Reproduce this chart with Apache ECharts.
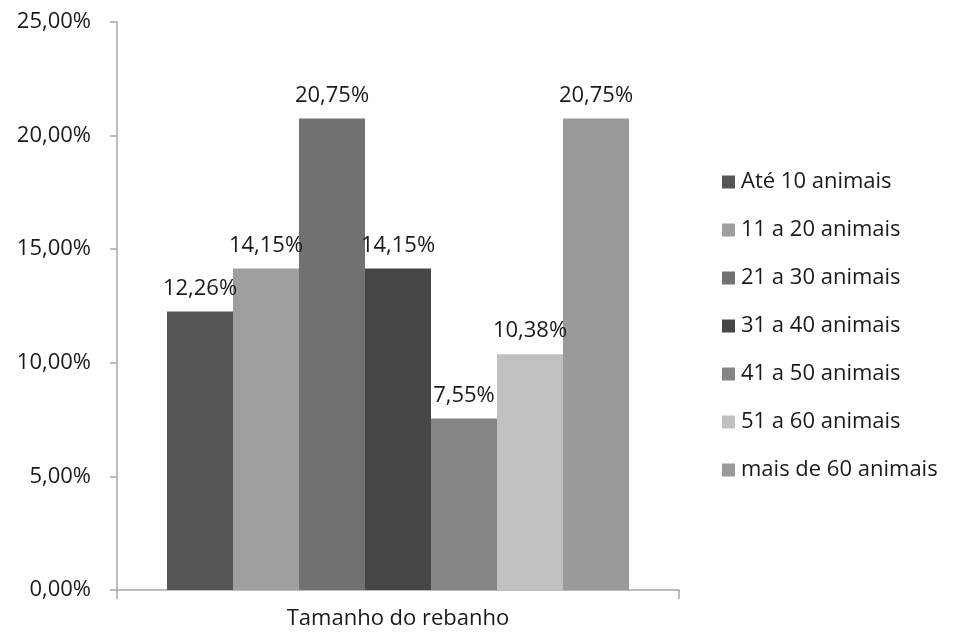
<!DOCTYPE html>
<html>
<head>
<meta charset="utf-8">
<script src="https://cdn.jsdelivr.net/npm/echarts@6/dist/echarts.min.js"></script>
<style>
  html, body { margin: 0; padding: 0; background: #ffffff; }
  #chart { width: 954px; height: 633px; }
</style>
</head>
<body>
<div id="chart"></div>
<script>
// Herd size distribution (percent of farms)
var categories = ['Tamanho do rebanho'];
var seriesNames = [
  'Até 10 animais',
  '11 a 20 animais',
  '21 a 30 animais',
  '31 a 40 animais',
  '41 a 50 animais',
  '51 a 60 animais',
  'mais de 60 animais'
];
var seriesValues = [12.26, 14.15, 20.75, 14.15, 7.55, 10.38, 20.75];
var seriesColors = ['#555555', '#9f9f9f', '#717171', '#464646', '#858585', '#c0c0c0', '#9a9a9a'];
var yTicks = [0, 5, 10, 15, 20, 25];

var FONT = '"Open Sans", Lato, sans-serif';
var FS = 22;

function pct(v) {
  return v.toFixed(2).replace('.', ',') + '%';
}

var series = seriesNames.map(function (name, i) {
  return {
    name: name,
    type: 'bar',
    data: [seriesValues[i]],
    barWidth: 66,
    barGap: '0%',
    itemStyle: { color: seriesColors[i] },
    label: {
      show: true,
      position: 'top',
      distance: 12,
      formatter: function (p) { return pct(p.value); },
      color: '#1a1a1a',
      fontFamily: FONT,
      fontSize: FS
    }
  };
});

var chart = echarts.init(document.getElementById('chart'), null, { renderer: 'canvas' });
chart.setOption({
  animation: false,
  backgroundColor: '#ffffff',
  grid: { left: 117, right: 275, top: 22, bottom: 43, containLabel: false },
  legend: {
    orient: 'vertical',
    left: 722,
    top: 171,
    padding: 0,
    itemWidth: 13,
    itemHeight: 13,
    itemGap: 26,
    icon: 'rect',
    textStyle: { fontFamily: FONT, fontSize: FS, color: '#1a1a1a', padding: [0, 0, 0, 1] },
    data: seriesNames
  },
  xAxis: {
    type: 'category',
    data: categories,
    boundaryGap: true,
    axisLine: { lineStyle: { color: '#a8a8a8', width: 1.5 } },
    axisTick: { show: true, length: 9, lineStyle: { color: '#a8a8a8', width: 1.5 } },
    axisLabel: { fontFamily: FONT, fontSize: FS, color: '#1a1a1a', margin: 18 }
  },
  yAxis: {
    type: 'value',
    min: 0,
    max: 25,
    interval: 5,
    splitLine: { show: false },
    axisLine: { show: true, lineStyle: { color: '#a8a8a8', width: 1.5 } },
    axisTick: { show: true, length: 7, lineStyle: { color: '#a8a8a8', width: 1.5 } },
    axisLabel: {
      fontFamily: FONT,
      fontSize: FS,
      color: '#1a1a1a',
      margin: 26,
      formatter: function (v) { return yTicks.indexOf(v) >= 0 ? pct(v) : ''; }
    }
  },
  series: series
});
</script>
</body>
</html>
